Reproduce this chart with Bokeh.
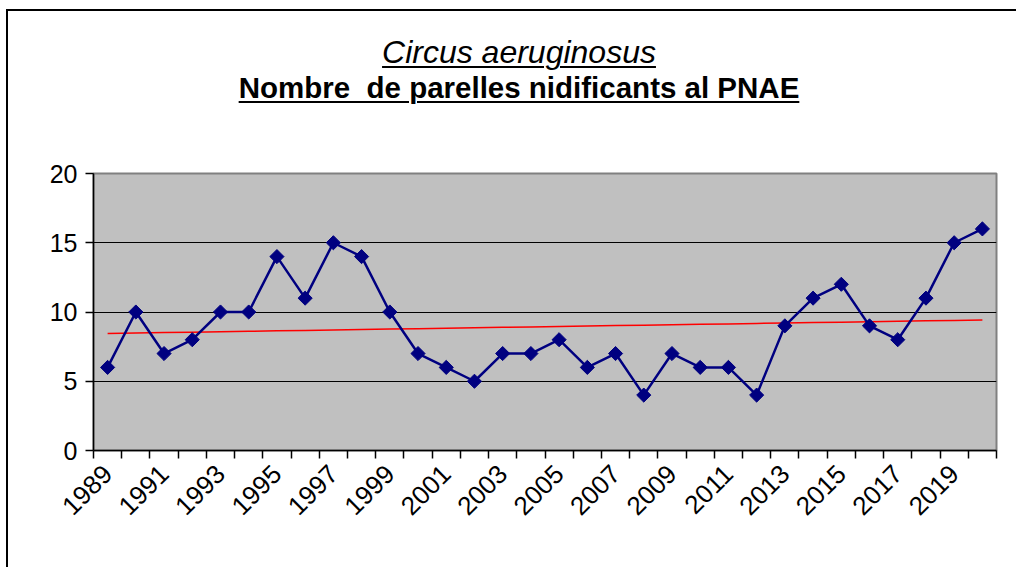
import numpy as np
from math import pi
from bokeh.plotting import figure
from bokeh.models import Range1d, FixedTicker, Div
from bokeh.layouts import column
from bokeh.embed import file_html
from bokeh.resources import INLINE

# ---- data ----
years = list(range(1989, 2021))
pairs = [6, 10, 7, 8, 10, 10, 14, 11, 15, 14, 10, 7, 6, 5, 7, 7,
         8, 6, 7, 4, 7, 6, 6, 4, 9, 11, 12, 9, 8, 11, 15, 16]
labelled_years = years[::2]
y_ticks = [0, 5, 10, 15, 20]
title_1 = "Circus aeruginosus"
title_2 = "Nombre&nbsp; de parelles nidificants al PNAE"

# linear trend line (least squares through the series)
slope, intercept = np.polyfit(years, pairs, 1)
trend = [slope * y + intercept for y in years]

FONT = "'Liberation Sans', Arial, sans-serif"
UL = "text-decoration:underline;text-decoration-thickness:2px;text-underline-offset:3px;"

div = Div(
    width=1000, height=110,
    text=(
        f'<div style="width:1000px;text-align:center;font-family:{FONT};color:#000;'
        f'padding-top:19px;padding-left:12px;box-sizing:border-box;">'
        f'<div style="font-size:32px;font-style:italic;line-height:35px;">'
        f'<span style="{UL}">{title_1}</span></div>'
        f'<div style="font-size:29.5px;font-weight:bold;line-height:35px;">'
        f'<span style="{UL}">{title_2}</span></div>'
        f'</div>'
    ),
)

p = figure(
    width=1000, height=436,
    x_range=Range1d(years[0] - 0.5, years[-1] + 0.5),
    y_range=Range1d(0, 20),
    output_backend="svg", toolbar_location=None,
    min_border_left=85, min_border_right=12,
    min_border_top=42, min_border_bottom=117,
    background_fill_color="#C0C0C0", border_fill_color="white",
    outline_line_color="#808080", outline_line_width=2,
)

# trend line
p.line(years, trend, line_color="#FF0000", line_width=1.5)
# series
p.line(years, pairs, line_color="#000080", line_width=2.5)
p.scatter(years, pairs, marker="square", angle=pi / 4, size=10,
          fill_color="#000080", line_color="#000080")

# axes
boundaries = [y - 0.5 for y in years] + [years[-1] + 0.5]
p.xaxis.ticker = FixedTicker(ticks=labelled_years, minor_ticks=boundaries)
p.xaxis.major_label_orientation = pi / 4
p.xaxis.major_tick_in = 0
p.xaxis.major_tick_out = 0
p.xaxis.minor_tick_in = 0
p.xaxis.minor_tick_out = 8
p.xaxis.minor_tick_line_color = "black"
p.xaxis.minor_tick_line_width = 1.5
p.xaxis.major_label_text_font_size = "26px"
p.xaxis.major_label_standoff = 11

p.yaxis.ticker = FixedTicker(ticks=y_ticks)
p.yaxis.major_tick_in = 0
p.yaxis.major_tick_out = 8
p.yaxis.minor_tick_out = 0
p.yaxis.minor_tick_in = 0
p.yaxis.major_tick_line_width = 1.5
p.yaxis.major_label_text_font_size = "25px"
p.yaxis.major_label_standoff = 8

for ax in (p.xaxis, p.yaxis):
    ax.axis_line_color = "black"
    ax.axis_line_width = 1.5
    ax.major_tick_line_color = "black"
    ax.major_label_text_font = "Liberation Sans"
    ax.major_label_text_color = "black"

p.xgrid.grid_line_color = None
p.ygrid.ticker = FixedTicker(ticks=y_ticks[1:-1])
p.ygrid.grid_line_color = "black"
p.ygrid.grid_line_width = 1

layout = column(div, p, styles={"border-left": "2px solid black",
                                "border-top": "2px solid black",
                                "margin-left": "6px",
                                "margin-top": "9px"})

open("out.html", "w").write(file_html(layout, INLINE))
